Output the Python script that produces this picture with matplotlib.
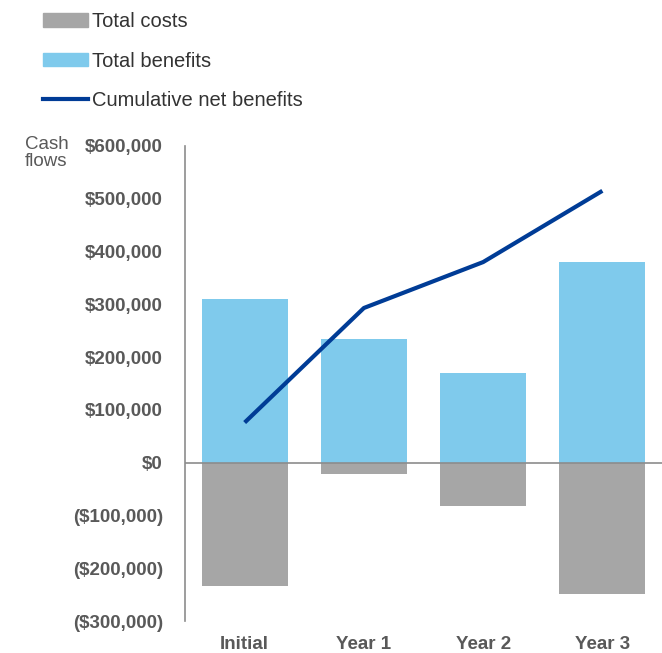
import matplotlib.pyplot as plt
from matplotlib.patches import Patch
from matplotlib.lines import Line2D
from matplotlib.ticker import FuncFormatter

plt.rcParams['font.family'] = ['Liberation Sans', 'DejaVu Sans']

# data
periods = ["Initial", "Year 1", "Year 2", "Year 3"]
total_costs = [-233000, -22000, -83000, -248000]
total_benefits = [310000, 235000, 170000, 381000]
cumulative_net = [76000, 293000, 380000, 515000]

grey = "#A6A6A6"
blue = "#7FCAEC"
navy = "#003C96"
text_col = "#595959"


def money(v, pos=None):
    if v < 0:
        return f"(${-v:,.0f})"
    return f"${v:,.0f}"


fig = plt.figure(figsize=(6.62, 6.53), dpi=100)
ax = fig.add_axes([0.2795, 0.049, 0.7205, 0.7275])

x = range(len(periods))
ax.bar(x, total_costs, width=0.72, color=grey, zorder=2)
ax.bar(x, total_benefits, width=0.72, color=blue, zorder=2)
ax.plot(x, cumulative_net, color=navy, linewidth=3, zorder=3, solid_capstyle='butt')
ax.axhline(0, color="#8C8C8C", linewidth=1.2, zorder=4)

ax.set_xlim(-0.5, 3.5)
ax.set_ylim(-300000, 600000)
ax.set_yticks(range(-300000, 600001, 100000))
ax.yaxis.set_major_formatter(FuncFormatter(money))
ax.set_xticks(list(x))
ax.set_xticklabels(periods)

for s in ["top", "right", "bottom"]:
    ax.spines[s].set_visible(False)
ax.spines["left"].set_color("#8C8C8C")
ax.spines["left"].set_linewidth(1.2)
ax.tick_params(axis="y", length=0, pad=16)
ax.tick_params(axis="x", length=0, pad=11)
for lbl in ax.get_yticklabels() + ax.get_xticklabels():
    lbl.set_fontweight("bold")
    lbl.set_color(text_col)
    lbl.set_fontsize(13.5)

fig.text(0.038, 0.791, "Cash\nflows", color=text_col, fontsize=13.5,
         va="top", ha="left", linespacing=0.95)

handles = [Patch(color=grey), Patch(color=blue), Line2D([0], [0], color=navy, linewidth=3)]
labels = ["Total costs", "Total benefits", "Cumulative net benefits"]
leg = fig.legend(handles, labels, loc="upper left", bbox_to_anchor=(0.038, 1.009),
                 frameon=False, fontsize=14.5, handlelength=2.2, handleheight=0.65,
                 handletextpad=0.2, labelspacing=1.02)
for t in leg.get_texts():
    t.set_color("#333333")

fig.savefig("out.png", dpi=100)
